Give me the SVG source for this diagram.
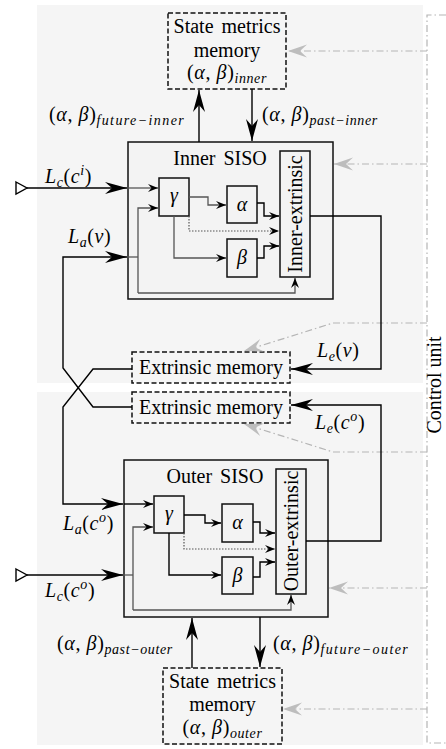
<svg xmlns="http://www.w3.org/2000/svg" width="446" height="749" viewBox="0 0 446 749">
<defs>
<style>
.t{font-family:"Liberation Serif","DejaVu Serif",serif;font-size:20px;fill:#000}
.m{letter-spacing:0.6px}
.i{font-style:italic}
.s{font-size:14px;font-style:italic}
.box{fill:#f3f3f3;stroke:#111;stroke-width:1.5}
.dbox{fill:#f5f5f5;stroke:#111;stroke-width:1.5;stroke-dasharray:5 2.5}
.w{fill:none;stroke:#000;stroke-width:1.4}
.g{fill:none;stroke:#555;stroke-width:1.3}
.d{fill:none;stroke:#555;stroke-width:1.2;stroke-dasharray:1.5 1.5}
.c{fill:none;stroke:#b5b5b5;stroke-width:1.2;stroke-dasharray:7 3 1.5 3}
</style>
<marker id="big" markerUnits="userSpaceOnUse" viewBox="-23 -7 24 14" refX="0" refY="0" markerWidth="24" markerHeight="14" orient="auto"><path d="M0,0 L-22,-6 L-15,0 L-22,6 Z" fill="#000"/></marker>
<marker id="sm" markerUnits="userSpaceOnUse" viewBox="-11 -5 12 10" refX="0" refY="0" markerWidth="12" markerHeight="10" orient="auto"><path d="M0,0 L-10,-4 L-6.5,0 L-10,4 Z" fill="#000"/></marker>
<marker id="gr" markerUnits="userSpaceOnUse" viewBox="-20 -7 21 14" refX="0" refY="0" markerWidth="21" markerHeight="14" orient="auto"><path d="M0,0 L-19,-6.5 L-12,0 L-19,6.5 Z" fill="#bdbdbd"/></marker>
</defs>
<rect x="0" y="0" width="446" height="749" fill="#fff"/>
<rect x="37" y="5" width="386" height="378" fill="#f5f5f5"/>
<rect x="37" y="392" width="386" height="353" fill="#f5f5f5"/>

<g id="control-unit">
<path class="c" d="M446,15 H427 V743 H446"/>
<text class="t" transform="translate(441,385) rotate(-90)" text-anchor="middle">Control unit</text>
</g>

<g id="sm-inner">
<rect class="dbox" x="168" y="13" width="118" height="76"/>
<text class="t" x="227" y="33" text-anchor="middle" word-spacing="3">State metrics</text>
<text class="t" x="227" y="57" text-anchor="middle">memory</text>
<text class="t m" x="227" y="79" text-anchor="middle">(<tspan class="i">α</tspan>, <tspan class="i">β</tspan>)<tspan class="s" dy="4">inner</tspan></text>
</g>

<g id="inner-siso">
<rect class="box" x="128" y="142" width="205" height="157"/>
<text class="t" x="220" y="165" text-anchor="middle" word-spacing="3">Inner SISO</text>
</g>
<g id="inner-gamma"><rect class="box" x="159" y="178" width="30" height="38"/><text class="t i" x="174" y="202" text-anchor="middle">γ</text></g>
<g id="inner-alpha"><rect class="box" x="227" y="186" width="30" height="37"/><text class="t i" x="242" y="211" text-anchor="middle">α</text></g>
<g id="inner-beta"><rect class="box" x="227" y="239" width="30" height="38"/><text class="t i" x="242" y="264" text-anchor="middle">β</text></g>
<g id="inner-extrinsic"><rect class="box" x="280" y="151" width="30" height="126"/><text class="t" transform="translate(302,214) rotate(-90)" text-anchor="middle">Inner-extrinsic</text></g>

<g id="ext-mem-1">
<rect class="dbox" x="132" y="352" width="158" height="31"/>
<text class="t" x="211" y="374" text-anchor="middle">Extrinsic memory</text>
</g>
<g id="ext-mem-2">
<rect class="dbox" x="132" y="392" width="158" height="31"/>
<text class="t" x="211" y="414" text-anchor="middle">Extrinsic memory</text>
</g>

<g id="outer-siso">
<rect class="box" x="124" y="460" width="204" height="157"/>
<text class="t" x="215" y="483" text-anchor="middle" word-spacing="3">Outer SISO</text>
</g>
<g id="outer-gamma"><rect class="box" x="154" y="496" width="30" height="37"/><text class="t i" x="169" y="520" text-anchor="middle">γ</text></g>
<g id="outer-alpha"><rect class="box" x="222" y="504" width="31" height="38"/><text class="t i" x="237.5" y="529" text-anchor="middle">α</text></g>
<g id="outer-beta"><rect class="box" x="222" y="557" width="31" height="37"/><text class="t i" x="237.5" y="582" text-anchor="middle">β</text></g>
<g id="outer-extrinsic"><rect class="box" x="276" y="469" width="30" height="125"/><text class="t" transform="translate(298,531) rotate(-90)" text-anchor="middle">Outer-extrinsic</text></g>

<g id="sm-outer">
<rect class="dbox" x="163" y="668" width="119" height="76"/>
<text class="t" x="222.5" y="688" text-anchor="middle" word-spacing="3">State metrics</text>
<text class="t" x="222.5" y="711" text-anchor="middle">memory</text>
<text class="t m" x="222.5" y="734" text-anchor="middle">(<tspan class="i">α</tspan>, <tspan class="i">β</tspan>)<tspan class="s" dy="4">outer</tspan></text>
</g>

<g id="inputs">
<polygon points="16,182 27,188 16,194" fill="#fff" stroke="#000" stroke-width="1.4"/>
<polygon points="16,569 27,575 16,581" fill="#fff" stroke="#000" stroke-width="1.4"/>
</g>

<g id="connectors">
<path class="c" d="M427,51 H288" marker-end="url(#gr)"/>
<path class="c" d="M427,164 H334" marker-end="url(#gr)"/>
<path class="c" d="M427,323 H333 L244,351" marker-end="url(#gr)"/>
<path class="c" d="M427,452 H333 L244,424" marker-end="url(#gr)"/>
<path class="c" d="M427,588 H329" marker-end="url(#gr)"/>
<path class="c" d="M427,709 H283" marker-end="url(#gr)"/>

<path class="w" d="M199,142 V90" marker-end="url(#big)"/>
<path class="w" d="M252,89 V141" marker-end="url(#big)"/>
<path class="w" d="M192,668 V618" marker-end="url(#big)"/>
<path class="w" d="M260,617 V667" marker-end="url(#big)"/>

<path class="w" d="M27,188 H127" marker-end="url(#big)"/>
<path class="g" d="M128,188 H158" marker-end="url(#sm)"/>
<path class="w" d="M132,369 H93 L63,407 V504 H123" marker-end="url(#big)"/>
<path class="w" d="M132,407 H93 L63,368 V257 H127" marker-end="url(#big)"/>
<path class="g" d="M128,257 H138"/>
<path class="g" d="M138,293 V208 H158" marker-end="url(#sm)"/>
<path class="g" d="M138,293 H295 V278" marker-end="url(#sm)"/>

<path class="g" d="M189,197 H208 V205 H226" marker-end="url(#sm)"/>
<path class="g" d="M174,216 V258 H226" marker-end="url(#sm)"/>
<path class="d" d="M189,216 V231 H279" marker-end="url(#sm)"/>
<path class="w" d="M257,203 H264 V216 H279" marker-end="url(#sm)"/>
<path class="w" d="M257,258 H264 V246 H279" marker-end="url(#sm)"/>

<path class="w" d="M310,216 H381 V369 H291" marker-end="url(#big)"/>
<path class="w" d="M306,541 H381 V405 H291" marker-end="url(#big)"/>

<path class="w" d="M124,504 H153" marker-end="url(#sm)"/>
<path class="w" d="M27,575 H123" marker-end="url(#big)"/>
<path class="g" d="M124,575 H133"/>
<path class="g" d="M133,610 V527 H153" marker-end="url(#sm)"/>
<path class="g" d="M133,610 H291 V595" marker-end="url(#sm)"/>

<path class="w" d="M184,515 H205 V523 H221" marker-end="url(#sm)"/>
<path class="w" d="M169,533 V575 H221" marker-end="url(#sm)"/>
<path class="d" d="M184,533 V549 H275" marker-end="url(#sm)"/>
<path class="w" d="M253,522 H260 V533 H275" marker-end="url(#sm)"/>
<path class="w" d="M253,577 H260 V562 H275" marker-end="url(#sm)"/>
</g>

<g id="labels">
<text class="t m" x="49" y="121">(<tspan class="i">α</tspan>, <tspan class="i">β</tspan>)<tspan class="s" dy="4" letter-spacing="1.4">future−inner</tspan></text>
<text class="t m" x="262" y="121">(<tspan class="i">α</tspan>, <tspan class="i">β</tspan>)<tspan class="s" dy="4">past−inner</tspan></text>
<text class="t m" x="57" y="650">(<tspan class="i">α</tspan>, <tspan class="i">β</tspan>)<tspan class="s" dy="4">past−outer</tspan></text>
<text class="t m" x="273" y="650">(<tspan class="i">α</tspan>, <tspan class="i">β</tspan>)<tspan class="s" dy="4" letter-spacing="1.4">future−outer</tspan></text>
<text class="t m" x="45" y="183"><tspan class="i">L</tspan><tspan class="s" dy="4">c</tspan><tspan dy="-4">(</tspan><tspan class="i">c</tspan><tspan class="s" dy="-8">i</tspan><tspan dy="8">)</tspan></text>
<text class="t m" x="68" y="243"><tspan class="i">L</tspan><tspan class="s" dy="4">a</tspan><tspan dy="-4">(</tspan><tspan class="i">v</tspan>)</text>
<text class="t m" x="317" y="357"><tspan class="i">L</tspan><tspan class="s" dy="4">e</tspan><tspan dy="-4">(</tspan><tspan class="i">v</tspan>)</text>
<text class="t m" x="315" y="429"><tspan class="i">L</tspan><tspan class="s" dy="4">e</tspan><tspan dy="-4">(</tspan><tspan class="i">c</tspan><tspan class="s" dy="-8">o</tspan><tspan dy="8">)</tspan></text>
<text class="t m" x="63" y="530"><tspan class="i">L</tspan><tspan class="s" dy="4">a</tspan><tspan dy="-4">(</tspan><tspan class="i">c</tspan><tspan class="s" dy="-8">o</tspan><tspan dy="8">)</tspan></text>
<text class="t m" x="45" y="597"><tspan class="i">L</tspan><tspan class="s" dy="4">c</tspan><tspan dy="-4">(</tspan><tspan class="i">c</tspan><tspan class="s" dy="-8">o</tspan><tspan dy="8">)</tspan></text>
</g>
</svg>
